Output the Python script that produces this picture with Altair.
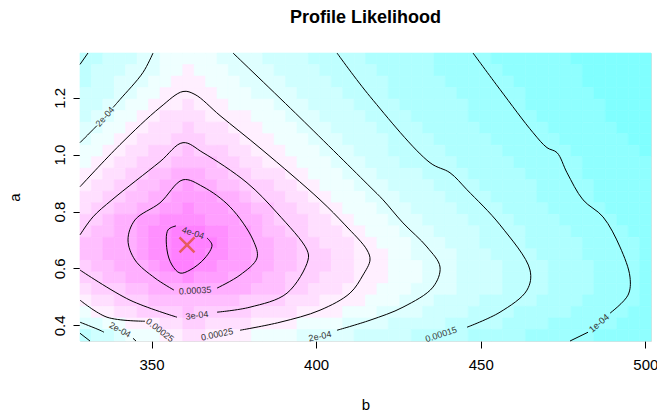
import altair as alt
import pandas as pd

TITLE = "Profile Likelihood"
X_TICKS = [350, 400, 450, 500]
Y_TICKS = [0.4, 0.6, 0.8, 1.0, 1.2]
MLE_B = [360.78]
MLE_A = [0.6824]

# grid of b (columns) and a (rows, bottom -> top)
B_GRID = [330.00, 333.47, 336.94, 340.41, 343.88, 347.35, 350.82, 354.29, 357.76, 361.22,
          364.69, 368.16, 371.63, 375.10, 378.57, 382.04, 385.51, 388.98, 392.45, 395.92,
          399.39, 402.86, 406.33, 409.80, 413.27, 416.73, 420.20, 423.67, 427.14, 430.61,
          434.08, 437.55, 441.02, 444.49, 447.96, 451.43, 454.90, 458.37, 461.84, 465.31,
          468.78, 472.24, 475.71, 479.18, 482.65, 486.12, 489.59, 493.06, 496.53, 500.00]
A_GRID = [0.365, 0.4055, 0.446, 0.4865, 0.527, 0.5675, 0.608, 0.6485, 0.689, 0.7295,
          0.770, 0.8105, 0.851, 0.8915, 0.932, 0.9725, 1.013, 1.0535, 1.094, 1.1345,
          1.175, 1.2155, 1.256, 1.2965, 1.337]

# likelihood (units of 1e-6), rows listed from top (a = 1.337) to bottom (a = 0.365)
Z_ROWS = [
    [150,158,167,176,185,193,202,212,221,228,222,216,209,203,197,192,186,180,175,169,164,158,152,148,144,139,135,131,126,122,118,114,109,105,101,97,93,90,86,83,79,75,72,69,65,61,58,54,50,47],
    [157,165,173,181,190,198,208,218,228,235,229,222,216,210,203,197,192,186,180,174,168,163,157,151,146,142,138,133,129,125,121,117,112,108,104,100,96,92,89,85,82,78,74,71,67,63,60,56,52,49],
    [164,172,180,188,196,205,216,226,236,243,236,230,223,217,210,204,197,191,185,179,173,167,161,155,150,145,141,137,132,128,124,120,115,111,107,103,99,95,91,88,84,80,77,73,69,66,62,58,55,51],
    [171,179,187,195,204,215,225,236,246,251,245,238,231,224,218,211,204,198,191,185,179,173,167,160,154,149,144,140,136,132,127,123,119,115,110,106,102,98,94,90,86,83,79,75,72,68,64,60,57,53],
    [178,186,194,203,215,227,238,250,257,261,255,248,241,234,227,219,212,205,198,191,185,179,172,166,159,153,148,143,139,135,131,126,122,118,114,109,105,101,97,93,90,86,82,78,75,71,67,63,59,56],
    [186,194,203,215,228,240,252,260,268,272,265,257,249,242,235,227,220,212,205,198,191,185,179,172,166,159,153,148,143,139,135,130,126,121,117,113,108,104,100,96,92,89,85,81,78,74,70,66,63,59],
    [193,201,214,227,241,252,261,269,278,283,275,267,259,251,243,236,228,221,213,205,198,192,185,179,172,165,159,152,147,143,138,134,129,125,121,116,112,107,103,99,95,91,88,84,80,77,73,69,66,62],
    [201,214,227,241,253,262,271,280,289,295,286,277,270,261,253,245,237,229,221,213,205,198,191,185,178,171,165,158,152,147,142,138,133,129,124,120,116,111,107,102,98,95,91,87,83,80,76,72,68,65],
    [213,227,241,254,263,273,283,293,303,309,300,291,282,273,264,255,247,239,231,223,214,206,198,191,184,178,171,164,158,151,146,142,137,133,128,124,120,115,111,106,102,98,94,90,86,83,79,75,71,68],
    [226,240,253,264,274,284,294,305,317,325,315,306,296,286,277,267,258,248,240,231,223,214,206,198,191,184,178,171,164,157,150,146,142,137,133,129,124,120,115,111,107,102,98,94,90,86,82,78,74,71],
    [240,253,264,275,286,297,308,320,332,340,330,320,310,300,290,280,270,259,249,241,232,224,215,206,198,192,186,180,174,168,162,155,149,145,140,135,130,125,120,115,110,105,100,96,93,89,85,81,78,74],
    [253,265,276,288,300,312,324,336,349,355,350,339,328,316,305,294,283,272,261,250,242,233,224,215,207,199,193,186,180,174,168,162,156,150,145,139,134,129,124,119,114,108,103,99,95,91,88,84,80,77],
    [265,277,290,302,314,325,337,348,359,367,360,354,345,332,318,305,294,283,273,263,253,243,234,225,216,207,198,192,186,180,174,168,162,155,149,144,139,134,128,123,117,112,106,101,97,93,90,86,82,79],
    [277,291,305,316,328,339,351,362,372,379,371,364,356,347,333,320,306,294,284,273,263,252,243,234,225,215,206,198,192,186,180,173,167,161,155,149,144,138,133,128,122,117,112,106,101,97,93,89,86,82],
    [289,305,318,331,344,355,366,376,386,392,383,373,364,355,343,330,317,304,293,283,272,262,252,242,233,223,214,204,197,191,185,179,173,166,160,154,149,143,138,133,127,122,117,112,106,101,97,93,89,85],
    [300,312,324,337,349,364,380,395,403,407,403,398,383,368,353,340,327,314,301,291,281,272,262,252,243,234,224,215,205,197,191,184,178,172,166,160,153,147,142,137,131,126,120,115,110,104,99,95,91,87],
    [307,318,329,340,351,366,381,396,410,423,412,402,388,374,361,347,335,323,311,299,289,280,270,261,251,241,232,223,214,204,197,190,184,177,171,164,158,151,146,140,135,129,124,118,113,108,102,98,94,90],
    [310,319,329,338,347,361,377,393,408,420,406,394,383,372,361,350,338,327,316,305,295,285,276,266,257,247,238,229,220,211,202,195,189,182,176,169,162,156,149,144,138,132,127,121,116,110,104,99,96,92],
    [305,314,323,332,341,349,366,384,401,404,395,384,374,364,354,343,333,322,312,301,292,283,274,265,255,247,239,231,223,215,207,199,193,186,179,173,166,160,153,147,141,135,130,124,118,112,106,101,96,93],
    [291,302,311,321,330,339,349,361,375,382,374,367,359,351,342,333,324,314,305,296,287,278,269,260,251,243,235,228,220,212,205,197,191,185,179,173,166,160,154,148,142,136,131,125,119,114,108,102,97,93],
    [272,283,295,305,315,324,334,343,350,351,352,351,349,340,332,324,316,307,299,290,281,272,263,253,245,238,230,223,215,208,201,194,189,183,177,171,165,159,153,147,142,136,130,125,119,113,108,102,97,93],
    [253,264,276,287,299,304,309,314,319,324,322,318,313,309,305,301,294,287,280,272,265,257,250,242,235,227,220,212,204,198,192,186,181,175,169,164,158,152,147,141,136,131,125,120,115,109,104,99,96,92],
    [228,245,256,265,274,283,292,300,304,307,305,302,298,292,286,280,274,268,262,256,250,243,235,228,220,213,205,198,193,188,183,178,172,167,162,156,151,146,140,135,130,125,120,114,109,104,99,96,92,89],
    [200,209,217,226,235,244,253,264,275,285,284,279,273,268,263,258,252,246,239,233,226,219,213,206,200,195,190,185,180,175,170,165,160,155,150,145,141,136,131,126,121,117,112,107,102,98,95,92,88,85],
    [152,169,187,202,213,224,234,245,254,263,261,255,249,243,238,232,226,220,215,209,203,198,193,188,184,179,174,170,165,160,156,151,147,142,138,134,130,126,122,117,113,109,104,100,96,93,89,86,82,79],
]

# R cm.colors(16)
CM16 = ["#80FFFF", "#8FFFFF", "#9FFFFF", "#AFFFFF", "#BFFFFF", "#CFFFFF", "#DFFFFF", "#EFFFFF",
        "#FFEFFF", "#FFDFFF", "#FFCFFF", "#FFBFFF", "#FFAFFF", "#FF9FFF", "#FF8FFF", "#FF80FF"]

# contour pieces (b, a)
CONTOURS = {
    "c100a": ([447.66, 455.86, 465.89, 470.14, 473.18, 476.22, 481.08, 487.15, 492.31, 495.35, 494.74, 489.28],
              [1.3573, 1.2290, 1.0774, 1.0245, 1.0069, 0.9363, 0.8411, 0.7812, 0.6754, 0.5695, 0.5060, 0.4426]),
    "c100b": ([482.60, 477.13], [0.3756, 0.3448]),
    "c150": ([406.34, 416.37, 434.60, 440.67, 445.84, 455.86, 464.98, 464.06, 455.86, 445.84],
             [1.3573, 1.2044, 0.9716, 0.9363, 0.8764, 0.7530, 0.5942, 0.5237, 0.4461, 0.3932]),
    "c150tl": ([328.27, 330.70], [1.3172, 1.3573]),
    "c150bl": ([328.27, 331.31], [0.3720, 0.3448]),
    "c200a1": ([350.45, 347.41, 340.42, 338.29], [1.3573, 1.2890, 1.1938, 1.1656]),
    "c200a2": ([333.43, 332.22, 328.27], [1.1021, 1.0880, 1.0421]),
    "c200b": ([374.75, 395.10, 416.37, 420.32, 426.39, 433.68, 437.64, 435.51, 426.39, 416.37, 406.34],
              [1.3573, 1.1303, 0.8870, 0.8411, 0.7600, 0.6754, 0.6048, 0.5343, 0.4637, 0.4179, 0.3826]),
    "c200c1": ([328.27, 334.35, 335.56], [0.4108, 0.3826, 0.3756]),
    "c200c2": ([344.37, 345.28], [0.3542, 0.3448]),
    "c250u": ([328.27, 340.42, 352.57, 359.56, 363.21, 370.80, 383.56, 401.18, 408.77, 415.46, 416.37, 414.24, 410.29, 401.18, 389.03, 376.88],
              [0.8870, 1.0351, 1.1656, 1.2220, 1.2114, 1.1374, 1.0174, 0.8411, 0.7530, 0.6648, 0.6295, 0.5766, 0.5131, 0.4531, 0.4108, 0.3826]),
    "c250l": ([328.27, 336.47, 348.02], [0.4884, 0.4285, 0.4143]),
    "c300a": ([357.74, 343.46, 328.27], [0.4285, 0.4884, 0.5942]),
    "c300b": ([328.27, 332.22, 337.99, 352.57, 359.56, 365.64, 379.00, 388.12, 397.23, 397.54, 391.16, 379.91, 369.89],
              [0.7177, 0.7812, 0.8411, 0.9751, 1.0421, 1.0069, 0.9011, 0.7953, 0.6648, 0.6295, 0.5131, 0.4637, 0.4461]),
    "c350": ([369.89, 376.88, 382.04, 380.83, 373.84, 365.64, 359.56, 352.57, 344.98, 342.85, 344.98, 351.05, 356.83],
             [0.5307, 0.5766, 0.6366, 0.7001, 0.8164, 0.8870, 0.9116, 0.8305, 0.7706, 0.7001, 0.6295, 0.5660, 0.5237]),
    "c400": ([366.85, 368.37, 366.24, 361.69, 358.65, 356.22, 354.70, 355.00, 357.43],
             [0.7070, 0.6824, 0.6366, 0.5942, 0.5837, 0.6119, 0.6648, 0.7353, 0.7494]),
}

LABEL_TEXT = ["1e-04", "0.00015", "2e-04", "2e-04", "2e-04", "0.00025", "0.00025", "3e-04", "0.00035", "4e-04"]
LABEL_B = [485.94, 437.94, 335.86, 401.18, 340.42, 369.89, 352.57, 363.81, 363.21, 362.60]
LABEL_A = [0.4073, 0.3683, 1.1338, 0.3614, 0.3842, 0.3683, 0.3826, 0.4353, 0.5218, 0.7246]
LABEL_ANGLE = [319, 342, 312, 348, 28, 348, 38, 353, 357, 18]

FONT = "Liberation Sans"
XDOM = [328.27, 501.73]
YDOM = [0.3448, 1.3573]

# ---- build tables ----
hb = (B_GRID[1] - B_GRID[0]) / 2
ha = (A_GRID[1] - A_GRID[0]) / 2
cells = []
n_rows = len(Z_ROWS)
for r, row in enumerate(Z_ROWS):
    a = A_GRID[n_rows - 1 - r]
    for j, z in enumerate(row):
        b = B_GRID[j]
        cells.append({"b0": b - hb, "b1": b + hb, "a0": a - ha, "a1": a + ha, "z": z})
cells_df = pd.DataFrame(cells)
zmin = float(cells_df["z"].min())
zmax = float(cells_df["z"].max())

lrows = []
for name, (bs, as_) in CONTOURS.items():
    for k, (b, a) in enumerate(zip(bs, as_)):
        lrows.append({"piece": name, "k": k, "b": b, "a": a})
lines_df = pd.DataFrame(lrows)

labels_df = pd.DataFrame({"t": LABEL_TEXT, "b": LABEL_B, "a": LABEL_A, "ang": LABEL_ANGLE})

xs = alt.Scale(domain=XDOM, nice=False, zero=False)
ys = alt.Scale(domain=YDOM, nice=False, zero=False)
cscale = alt.Scale(type="quantize", domain=[zmin, zmax], range=CM16, nice=False, zero=False)

xaxis = alt.Axis(values=X_TICKS, title="b", grid=False, domain=False, tickSize=7,
                 tickColor="black", labelFontSize=15, labelFont=FONT, labelColor="black",
                 labelPadding=9, titleFont=FONT, titleFontSize=15, titleFontWeight="normal",
                 titlePadding=25, titleColor="black", format="d", labelFlush=False)
yaxis = alt.Axis(values=Y_TICKS, title="a", grid=False, domain=False, tickSize=7,
                 tickColor="black", labelFontSize=15, labelFont=FONT, labelColor="black",
                 labelAngle=270, labelAlign="center", labelBaseline="bottom", labelPadding=6,
                 format=".1f", titleFont=FONT, titleFontSize=15, titleFontWeight="normal",
                 titlePadding=30, titleColor="black")

heat = alt.Chart(cells_df).mark_rect(strokeWidth=0.6).encode(
    x=alt.X("b0:Q", scale=xs, axis=xaxis),
    x2="b1:Q",
    y=alt.Y("a0:Q", scale=ys, axis=yaxis),
    y2="a1:Q",
    color=alt.Color("z:Q", scale=cscale, legend=None),
    stroke=alt.Stroke("z:Q", scale=cscale, legend=None),
)

lines = alt.Chart(lines_df).mark_line(color="black", strokeWidth=1, interpolate="catmull-rom").encode(
    x=alt.X("b:Q", scale=xs),
    y=alt.Y("a:Q", scale=ys),
    detail="piece:N",
    order="k:Q",
)

labels = alt.Chart(labels_df).mark_text(font=FONT, fontSize=9, color="#333333").encode(
    x=alt.X("b:Q", scale=xs),
    y=alt.Y("a:Q", scale=ys),
    text="t:N",
    angle=alt.Angle("ang:Q", scale=None),
)

mle = alt.Chart(pd.DataFrame({"b": MLE_B, "a": MLE_A})).mark_point(
    shape="M-1,-1L1,1M-1,1L1,-1", filled=False, size=225, strokeWidth=2.5,
    color="#E5584F", opacity=0.9
).encode(x=alt.X("b:Q", scale=xs), y=alt.Y("a:Q", scale=ys))

chart = alt.layer(heat, lines, labels, mle).properties(
    width=571, height=288,
    title=alt.TitleParams(TITLE, font=FONT, fontSize=18, fontWeight="bold", anchor="middle",
                          offset=24, color="black"),
    autosize=alt.AutoSizeParams(type="none"),
    padding={"left": 80, "top": 53, "right": 6, "bottom": 73},
).configure_view(stroke="#222222", strokeWidth=1).configure(background="white")

chart.save("out.html", embed_options={"renderer": "svg", "actions": False})
